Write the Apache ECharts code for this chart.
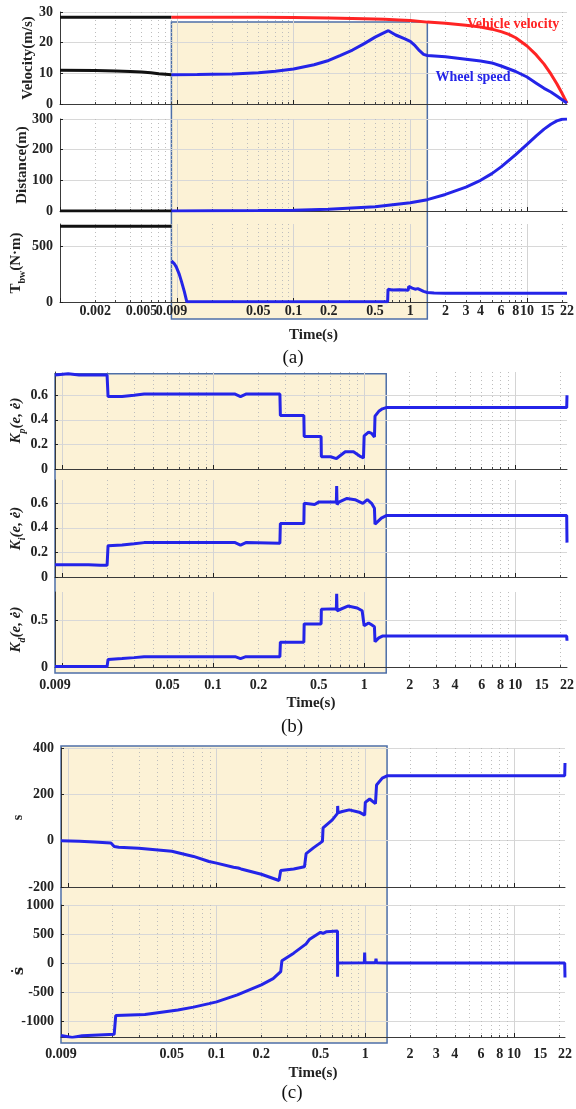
<!DOCTYPE html>
<html><head><meta charset="utf-8">
<script src="https://cdn.jsdelivr.net/npm/echarts@6/dist/echarts.min.js"></script>
<style>html,body{margin:0;padding:0;background:#fff}#c{width:576px;height:1109px}</style>
</head><body><div id="c"></div>
<script>
// ---------------- DATA ----------------
const xTicksA = [0.002, 0.005, 0.009, 0.05, 0.1, 0.2, 0.5, 1, 2, 3, 4, 6, 8, 10, 15, 22];
const xTicksBC = [0.009, 0.05, 0.1, 0.2, 0.5, 1, 2, 3, 4, 6, 8, 10, 15, 22];
const decadeTicks = [0.001, 0.01, 0.1, 1, 10];
const yTicksVel = [0, 10, 20, 30];
const yTicksDist = [0, 100, 200, 300];
const yTicksTorq = [0, 500];
const yTicksK = [0, 0.2, 0.4, 0.6];
const yTicksKd = [0, 0.5];
const yTicksS = [-200, 0, 200, 400];
const yTicksSd = [-1000, -500, 0, 500, 1000];
const shadeRange = [0.009, 1.4];

// (a) before the controller starts (black)
const preT = [0.001, 0.002, 0.003, 0.004, 0.005, 0.006, 0.007, 0.008, 0.009];
const vehPreV = [28.3, 28.3, 28.3, 28.3, 28.3, 28.3, 28.3, 28.3, 28.3];
const wheelPreV = [11, 10.9, 10.8, 10.6, 10.4, 10.2, 9.9, 9.7, 9.5];
const distPreV = [0, 0, 0, 0, 0, 0, 0, 0, 0];
const torqPreV = [680, 680, 680, 680, 680, 680, 680, 680, 680];

// (a) vehicle velocity
const vehT = [0.009, 0.05, 0.1, 0.2, 0.4, 0.6, 0.8, 1, 1.4, 2, 3, 4, 5, 6, 7, 8, 10, 12, 14, 16, 18, 20, 21, 22];
const vehV = [28.3, 28.25, 28.2, 28.05, 27.8, 27.6, 27.4, 27.2, 26.7, 26.3, 25.7, 25.1, 24.4, 23.6, 22.7, 21.6, 18.9, 16, 13, 9.8, 6.6, 3.4, 1.8, 0.3];
// (a) wheel speed
const wheelT = [0.009, 0.015, 0.02, 0.03, 0.05, 0.07, 0.1, 0.15, 0.2, 0.25, 0.32, 0.4, 0.5, 0.58, 0.65, 0.75, 0.9, 1.0, 1.1, 1.2, 1.3, 1.4, 2, 3, 4, 5, 6, 8, 10, 12, 14, 16, 18, 20, 21, 22];
const wheelV = [9.5, 9.6, 9.7, 9.8, 10.2, 10.7, 11.4, 12.8, 14.2, 15.8, 17.6, 19.6, 21.8, 23.0, 23.9, 22.5, 21.2, 20.4, 19.0, 17.4, 16.2, 15.8, 15.4, 14.6, 14.0, 13.4, 12.4, 10.6, 8.8, 6.8, 5.1, 3.9, 2.6, 1.4, 0.8, 0.3];
// (a) distance
const distT = [0.009, 0.05, 0.1, 0.2, 0.5, 1, 1.4, 2, 3, 4, 5, 6, 8, 10, 12, 14, 16, 18, 20, 22];
const distV = [0.25, 1.4, 2.8, 5.6, 14, 27, 37, 54, 78, 100, 122, 144, 184, 217, 245, 267, 283, 294, 299, 300];
// (a) braking torque
const torqT = [0.009, 0.0095, 0.0099, 0.0105, 0.011, 0.0116, 0.0122, 0.1, 0.64, 0.645, 0.7, 0.8, 0.9, 0.96, 0.97, 1.0, 1.04, 1.07, 1.1, 1.13, 1.16, 1.2, 1.3, 1.4, 1.6, 2, 22];
const torqV = [369, 345, 315, 250, 181, 95, 2, 2, 2, 115, 108, 110, 107, 105, 140, 135, 125, 118, 115, 128, 120, 108, 95, 85, 80, 78, 78];

// (b) gains
const kpT = [0.009, 0.011, 0.013, 0.0199, 0.0202, 0.025, 0.03, 0.035, 0.14, 0.152, 0.165, 0.277, 0.279, 0.399, 0.401, 0.519, 0.521, 0.6, 0.656, 0.75, 0.85, 0.95, 0.99, 1.0, 1.07, 1.12, 1.17, 1.18, 1.25, 1.32, 1.4, 5, 21.9, 22];
const kpV = [0.765, 0.775, 0.765, 0.765, 0.59, 0.59, 0.60, 0.61, 0.61, 0.59, 0.61, 0.61, 0.435, 0.435, 0.265, 0.265, 0.10, 0.10, 0.085, 0.14, 0.14, 0.10, 0.09, 0.27, 0.30, 0.29, 0.26, 0.43, 0.47, 0.49, 0.50, 0.50, 0.50, 0.60];
const kiT = [0.009, 0.015, 0.018, 0.0199, 0.0202, 0.025, 0.03, 0.035, 0.14, 0.152, 0.165, 0.277, 0.279, 0.399, 0.401, 0.47, 0.5, 0.655, 0.658, 0.662, 0.68, 0.77, 0.87, 0.98, 1.05, 1.12, 1.17, 1.18, 1.3, 1.4, 5, 21.9, 22];
const kiV = [0.10, 0.10, 0.095, 0.095, 0.255, 0.26, 0.27, 0.28, 0.28, 0.26, 0.28, 0.275, 0.435, 0.435, 0.60, 0.59, 0.61, 0.61, 0.74, 0.59, 0.61, 0.64, 0.63, 0.60, 0.63, 0.60, 0.56, 0.43, 0.48, 0.50, 0.50, 0.50, 0.28];
const kdT = [0.009, 0.015, 0.0199, 0.0202, 0.025, 0.03, 0.035, 0.1, 0.14, 0.152, 0.165, 0.277, 0.279, 0.399, 0.401, 0.519, 0.521, 0.6, 0.655, 0.658, 0.662, 0.68, 0.78, 0.9, 0.97, 0.99, 1.0, 1.07, 1.12, 1.17, 1.18, 1.25, 1.32, 1.4, 5, 21.9, 22];
const kdV = [0.005, 0.005, 0.005, 0.08, 0.09, 0.1, 0.11, 0.11, 0.11, 0.09, 0.11, 0.11, 0.265, 0.265, 0.46, 0.46, 0.615, 0.62, 0.62, 0.78, 0.6, 0.62, 0.65, 0.63, 0.6, 0.58, 0.44, 0.47, 0.45, 0.43, 0.27, 0.31, 0.33, 0.33, 0.33, 0.33, 0.28];

// (c) sliding surface and its derivative
const sT = [0.009, 0.012, 0.015, 0.0195, 0.0205, 0.022, 0.03, 0.05, 0.07, 0.089, 0.1, 0.13, 0.14, 0.146, 0.2, 0.263, 0.27, 0.33, 0.39, 0.40, 0.45, 0.515, 0.52, 0.6, 0.65, 0.652, 0.655, 0.70, 0.78, 0.91, 0.99, 1.0, 1.07, 1.17, 1.19, 1.3, 1.4, 5, 21.9, 22];
const sV = [0, -3, -6, -10, -25, -28, -33, -46, -68, -90, -97, -115, -118, -122, -145, -172, -129, -122, -113, -56, -30, -3, 55, 90, 118, 150, 120, 126, 133, 123, 110, 165, 180, 160, 240, 270, 280, 280, 280, 335];
const sdT = [0.009, 0.0107, 0.0125, 0.019, 0.0205, 0.021, 0.033, 0.055, 0.07, 0.089, 0.1, 0.138, 0.2, 0.24, 0.27, 0.275, 0.33, 0.4, 0.42, 0.5, 0.52, 0.55, 0.65, 0.651, 0.652, 0.66, 0.985, 0.99, 0.995, 1.17, 1.18, 1.19, 1.4, 5, 21.9, 22];
const sdV = [-1248, -1285, -1255, -1232, -1228, -905, -889, -810, -760, -700, -670, -550, -376, -270, -148, 40, 170, 330, 405, 530, 510, 540, 550, -235, 0, 5, 5, 180, 5, 5, 75, 5, 0, 0, 0, -250];

// ---------------- STYLE / LAYOUT ----------------
const FONT = '"Liberation Serif","Times New Roman",serif';
const BLUE = '#2424e8', RED = '#ff2424', BLACK = '#111111';
const AXC = '#3a3a3a';

function pairs(t, v) { return t.map((x, i) => [x, v[i]]); }
function fmt(v) { return String(+(+v).toPrecision(3)); }
function minorVals(min, max) {
  const out = [];
  for (let e = -3; e <= 1; e++) for (let k = 2; k <= 9; k++) {
    const v = +(k * Math.pow(10, e)).toPrecision(3);
    if (v > min && v < max) out.push(v);
  }
  return out;
}

const grids = [
  { left: 60, top: 12, width: 507, height: 92 },
  { left: 60, top: 119, width: 507, height: 92 },
  { left: 60, top: 224, width: 507, height: 78 },
  { left: 55, top: 372, width: 512, height: 97 },
  { left: 55, top: 480, width: 512, height: 97 },
  { left: 55, top: 592, width: 512, height: 75 },
  { left: 61, top: 748, width: 504, height: 139 },
  { left: 61, top: 905, width: 504, height: 132 }
].map(g => Object.assign({ outerBoundsMode: 'none', containLabel: false }, g));

const xRanges = [[0.001, 22], [0.001, 22], [0.001, 22], [0.009, 22], [0.009, 22], [0.009, 22], [0.009, 22], [0.009, 22]];
const xLabelCfg = { 2: [xTicksA, 2, 26], 5: [xTicksBC, 11, 29], 7: [xTicksBC, 10, 29] };

const xAxes = [];
grids.forEach((g, i) => {
  const [mn, mx] = xRanges[i];
  const lab = xLabelCfg[i];
  xAxes.push({
    type: 'log', logBase: 10, gridIndex: i, min: mn, max: mx, position: 'bottom',
    axisLine: { show: true, onZero: false, lineStyle: { color: AXC, width: 1 } },
    axisTick: { show: true, inside: true, length: 4, customValues: decadeTicks.filter(v => v >= mn && v <= mx), lineStyle: { color: '#222' } },
    axisLabel: { show: !!lab, customValues: lab ? lab[0] : [], margin: lab ? lab[1] : 4, formatter: fmt, fontFamily: FONT, fontWeight: 'bold', fontSize: 14, color: '#222', hideOverlap: false },
    splitLine: { show: true, lineStyle: { color: '#d4d4d4', width: 1 } },
    name: lab ? 'Time(s)' : '', nameLocation: 'middle', nameGap: lab ? lab[2] : 30, nameMoveOverlap: false,
    nameTextStyle: { fontFamily: FONT, fontWeight: 'bold', fontSize: 15, color: '#222' }
  });
  xAxes.push({
    type: 'log', logBase: 10, gridIndex: i, min: mn, max: mx, position: 'bottom',
    axisLine: { show: false, onZero: false },
    axisTick: { show: true, inside: true, length: 2, customValues: minorVals(mn, mx), lineStyle: { color: '#444' } },
    axisLabel: { show: false },
    splitLine: { show: true, lineStyle: { color: '#bdbdbd', width: 1, type: [1, 3] } }
  });
});

const nameStyle = { fontFamily: FONT, fontWeight: 'bold', fontSize: 15, color: '#222' };
const kRich = {
  k: { fontFamily: FONT, fontWeight: 'bold', fontStyle: 'italic', fontSize: 15, color: '#222', lineHeight: 22, verticalAlign: 'middle' },
  s: { fontFamily: FONT, fontWeight: 'bold', fontStyle: 'italic', fontSize: 10, color: '#222', lineHeight: 22, verticalAlign: 'bottom' },
  n: { fontFamily: FONT, fontWeight: 'bold', fontSize: 15, color: '#222', lineHeight: 22, verticalAlign: 'middle' },
  t: { fontFamily: FONT, fontWeight: 'bold', fontSize: 10, color: '#222', lineHeight: 22, verticalAlign: 'bottom' },
  d: { fontFamily: '"DejaVu Serif",serif', fontWeight: 'bold', fontSize: 15, color: '#222' },
  p: { fontFamily: FONT, fontWeight: 'bold', fontSize: 14, color: '#222' }
};
const yCfg = [
  [0, 30, yTicksVel, 'Velocity(m/s)', 24],
  [0, 300, yTicksDist, 'Distance(m)', 30],
  [0, 700, yTicksTorq, '{n|T}{t|bw}{n|(N·m)}', 33],
  [0, 0.79, yTicksK, '{k|K}{s|p}{k|(e, ė)}', 28],
  [0, 0.79, yTicksK, '{k|K}{s|i}{k|(e, ė)}', 28],
  [0, 0.8, yTicksKd, '{k|K}{s|d}{k|(e, ė)}', 28],
  [-200, 400, yTicksS, '{p|s}', 36],
  [-1275, 1000, yTicksSd, '{d|ṡ}', 34]
];
const yAxes = yCfg.map((c, i) => ({
  type: 'value', gridIndex: i, min: c[0], max: c[1],
  axisLine: { show: true, onZero: false, lineStyle: { color: AXC, width: 1 } },
  axisTick: { show: true, inside: true, length: 3, customValues: c[2], lineStyle: { color: '#222' } },
  axisLabel: { customValues: c[2], formatter: fmt, margin: 7, fontFamily: FONT, fontWeight: 'bold', fontSize: 14, color: '#222' },
  splitLine: { show: true, lineStyle: { color: '#d8d8d8', width: 1 } },
  name: c[3], nameLocation: 'middle', nameGap: c[4], nameMoveOverlap: false,
  nameTextStyle: Object.assign({ rich: kRich }, nameStyle)
}));

function line(g, data, color) {
  return {
    type: 'line', xAxisIndex: 2 * g, yAxisIndex: g, data: data, showSymbol: false, symbol: 'none',
    lineStyle: { color: color, width: 3 }, itemStyle: { color: color }, z: 5, animation: false
  };
}

const series = [
  line(0, pairs(preT, vehPreV), BLACK),
  line(0, pairs(preT, wheelPreV), BLACK),
  line(0, pairs(vehT, vehV), RED),
  line(0, pairs(wheelT, wheelV), BLUE),
  line(1, pairs(preT, distPreV), BLACK),
  line(1, pairs(distT, distV), BLUE),
  line(2, pairs(preT, torqPreV), BLACK),
  line(2, pairs(torqT, torqV), BLUE),
  line(3, pairs(kpT, kpV), BLUE),
  line(4, pairs(kiT, kiV), BLUE),
  line(5, pairs(kdT, kdV), BLUE),
  line(6, pairs(sT, sV), BLUE),
  line(7, pairs(sdT, sdV), BLUE)
];

const chart = echarts.init(document.getElementById('c'), null, { renderer: 'canvas' });
chart.setOption({
  animation: false,
  backgroundColor: '#ffffff',
  grid: grids, xAxis: xAxes, yAxis: yAxes, series: series
});

// shaded region boxes and annotations, placed through the axes
function px(xi, v) { return chart.convertToPixel({ xAxisIndex: xi }, v); }
function py(yi, v) { return chart.convertToPixel({ yAxisIndex: yi }, v); }
const boxes = [
  { x0: px(0, shadeRange[0]), x1: px(0, shadeRange[1]), y0: py(0, 26.7), y1: py(2, 0) + 17 },
  { x0: px(6, shadeRange[0]), x1: px(6, shadeRange[1]), y0: py(3, 0.775), y1: py(5, 0) + 6 },
  { x0: px(12, shadeRange[0]), x1: px(12, shadeRange[1]), y0: py(6, 400) - 2, y1: py(7, -1275) + 6 }
];
const graphics = boxes.map(b => ({
  type: 'rect', z: -10, silent: true,
  shape: { x: b.x0, y: b.y0, width: b.x1 - b.x0, height: b.y1 - b.y0 },
  style: { fill: '#fcf2d6', stroke: '#4d6fa8', lineWidth: 1.5 }
}));
function txt(x, y, s, font, color) {
  return { type: 'text', x: x, y: y, z: 20, silent: true,
    style: { text: s, font: font, fill: color, align: 'center', verticalAlign: 'middle', textAlign: 'center', textVerticalAlign: 'middle' } };
}
graphics.push(txt(px(0, 7.6), py(0, 26.1), 'Vehicle velocity', 'bold 14px ' + FONT, RED));
graphics.push(txt(px(0, 3.45), py(0, 8.8), 'Wheel speed', 'bold 14px ' + FONT, BLUE));
graphics.push(txt(293, 358, '(a)', '19px ' + FONT, '#111'));
graphics.push(txt(292, 727, '(b)', '19px ' + FONT, '#111'));
graphics.push(txt(292, 1093, '(c)', '19px ' + FONT, '#111'));
chart.setOption({ graphic: graphics });
</script></body></html>
